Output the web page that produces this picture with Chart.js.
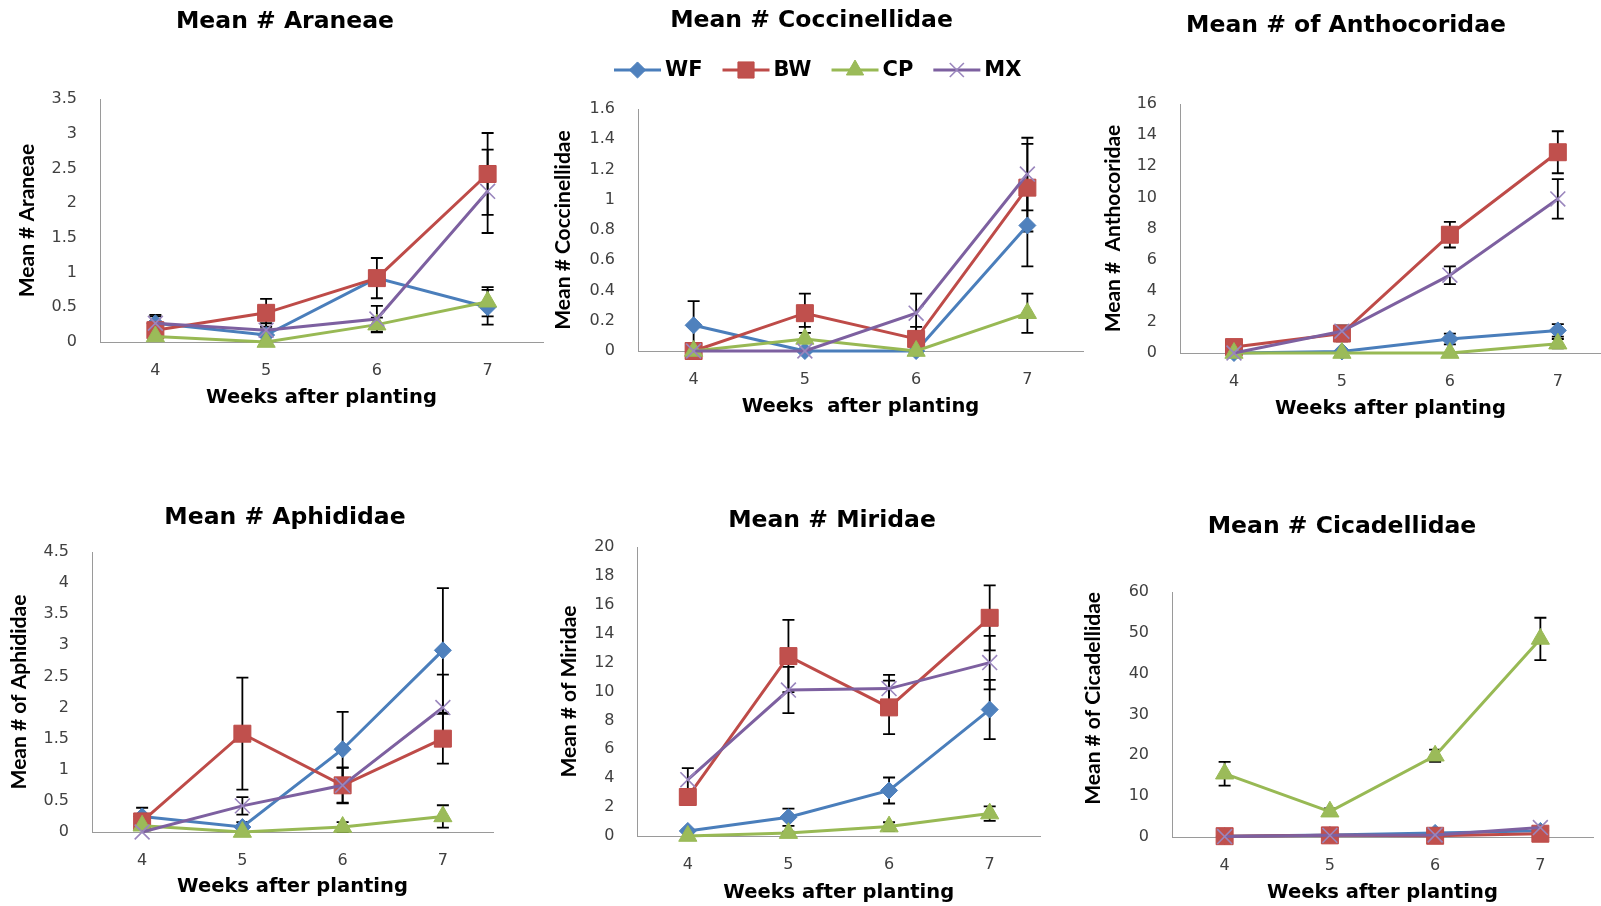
<!DOCTYPE html>
<html>
<head>
<meta charset="utf-8">
<script src="https://cdn.jsdelivr.net/npm/chart.js@4.4.0/dist/chart.umd.min.js"></script>
<style>
  html, body { margin: 0; padding: 0; background: #ffffff; }
  #wrap { position: relative; width: 1601px; height: 906px; overflow: hidden; background: #ffffff; }
  #wrap canvas { position: absolute; left: 0; top: 0; }
</style>
</head>
<body>
<div id="wrap"></div>
<script>
// ---- data ----
const weeks = [4, 5, 6, 7];
const seriesNames = ['WF', 'BW', 'CP', 'MX'];

// Araneae
const araneaeWF = [0.27, 0.10, 0.92, 0.50];
const araneaeBW = [0.17, 0.42, 0.92, 2.42];
const araneaeCP = [0.08, 0.00, 0.25, 0.58];
const araneaeMX = [0.27, 0.17, 0.33, 2.17];
const araneaeWFse = [0.12, 0.08, 0.00, 0.25];
const araneaeBWse = [0.05, 0.20, 0.29, 0.59];
const araneaeCPse = [0.05, 0.00, 0.10, 0.21];
const araneaeMXse = [0.10, 0.10, 0.19, 0.60];
const araneaeTicks = [0, 0.5, 1, 1.5, 2, 2.5, 3, 3.5];

// Coccinellidae
const coccinellidaeWF = [0.17, 0.00, 0.00, 0.83];
const coccinellidaeBW = [0.00, 0.25, 0.08, 1.08];
const coccinellidaeCP = [0.00, 0.08, 0.00, 0.25];
const coccinellidaeMX = [0.00, 0.00, 0.25, 1.17];
const coccinellidaeWFse = [0.16, 0.00, 0.00, 0.27];
const coccinellidaeBWse = [0.00, 0.13, 0.08, 0.29];
const coccinellidaeCPse = [0.00, 0.08, 0.00, 0.13];
const coccinellidaeMXse = [0.00, 0.00, 0.13, 0.24];
const coccinellidaeTicks = [0, 0.2, 0.4, 0.6, 0.8, 1, 1.2, 1.4, 1.6];

// Anthocoridae
const anthocoridaeWF = [0.00, 0.10, 0.90, 1.45];
const anthocoridaeBW = [0.38, 1.25, 7.60, 12.90];
const anthocoridaeCP = [0.00, 0.00, 0.00, 0.60];
const anthocoridaeMX = [0.00, 1.40, 5.00, 9.90];
const anthocoridaeWFse = [0.00, 0.05, 0.35, 0.40];
const anthocoridaeBWse = [0.10, 0.50, 0.82, 1.35];
const anthocoridaeCPse = [0.00, 0.00, 0.00, 0.30];
const anthocoridaeMXse = [0.00, 0.35, 0.57, 1.27];
const anthocoridaeTicks = [0, 2, 4, 6, 8, 10, 12, 14, 16];

// Aphididae
const aphididaeWF = [0.25, 0.08, 1.33, 2.92];
const aphididaeBW = [0.17, 1.58, 0.75, 1.50];
const aphididaeCP = [0.10, 0.00, 0.08, 0.25];
const aphididaeMX = [0.00, 0.42, 0.75, 2.00];
const aphididaeWFse = [0.14, 0.08, 0.60, 1.00];
const aphididaeBWse = [0.05, 0.90, 0.29, 0.40];
const aphididaeCPse = [0.03, 0.00, 0.08, 0.18];
const aphididaeMXse = [0.00, 0.14, 0.28, 0.53];
const aphididaeTicks = [0, 0.5, 1, 1.5, 2, 2.5, 3, 3.5, 4, 4.5];

// Miridae
const miridaeWF = [0.35, 1.30, 3.15, 8.75];
const miridaeBW = [2.70, 12.45, 8.90, 15.10];
const miridaeCP = [0.00, 0.20, 0.65, 1.55];
const miridaeMX = [3.90, 10.10, 10.20, 12.00];
const miridaeWFse = [0.10, 0.60, 0.90, 2.05];
const miridaeBWse = [0.50, 2.50, 1.85, 2.25];
const miridaeCPse = [0.00, 0.10, 0.30, 0.50];
const miridaeMXse = [0.80, 1.60, 0.95, 1.85];
const miridaeTicks = [0, 2, 4, 6, 8, 10, 12, 14, 16, 18, 20];

// Cicadellidae
const cicadellidaeWF = [0.20, 0.50, 1.00, 1.50];
const cicadellidaeBW = [0.20, 0.40, 0.30, 0.80];
const cicadellidaeCP = [15.50, 6.20, 19.90, 48.50];
const cicadellidaeMX = [0.10, 0.40, 0.50, 2.30];
const cicadellidaeWFse = [0, 0, 0, 0];
const cicadellidaeBWse = [0, 0, 0, 0];
const cicadellidaeCPse = [2.90, 0.80, 1.50, 5.20];
const cicadellidaeMXse = [0, 0, 0, 0];
const cicadellidaeTicks = [0, 10, 20, 30, 40, 50, 60];

// ---- styling ----
const lineColors   = ['#4a7ebb', '#be4b48', '#98b954', '#7d60a0'];
const markerFills  = ['#4f81bd', '#c0504d', '#9bbb59', '#8064a2'];
const markerLines  = ['#4a7ebb', '#be4b48', '#98b954', '#9a86bd'];
const markerShapes = ['rectRot', 'rect', 'triangle', 'crossRot'];
const markerRadii  = [8.5, 12, 10.5, 10.5];
const markerWidths = [1, 1, 1, 1.6];

const W = 1601, H = 906;
const tickFont = { family: '"DejaVu Sans", Verdana, sans-serif', size: 16 };
const xTitleFont = { family: '"DejaVu Sans", Verdana, sans-serif', size: 19.5, weight: 'bold' };
const yTitleFont = { family: 'Lato, "Open Sans", sans-serif', size: 21, weight: 'bold' };
const panelTitleFont = 'bold 23.5px "DejaVu Sans", Verdana, sans-serif';
const legendFont = 'bold 21px "DejaVu Sans", Verdana, sans-serif';

// panel layout (pixel boxes of each plot area)
const panels = [
  { title: 'Mean # Araneae', yTitle: 'Mean # Araneae', xTitle: 'Weeks after planting',
    means: [araneaeWF, araneaeBW, araneaeCP, araneaeMX],
    errs: [araneaeWFse, araneaeBWse, araneaeCPse, araneaeMXse], ticks: araneaeTicks,
    box: { left: 100, right: 543, top: 99, bottom: 342 }, xMax: 7.5,
    titleAt: [285, 22], yTitleX: 27.5, xTitleY: 398 },
  { title: 'Mean # Coccinellidae', yTitle: 'Mean # Coccinellidae', xTitle: 'Weeks  after planting',
    means: [coccinellidaeWF, coccinellidaeBW, coccinellidaeCP, coccinellidaeMX],
    errs: [coccinellidaeWFse, coccinellidaeBWse, coccinellidaeCPse, coccinellidaeMXse], ticks: coccinellidaeTicks,
    box: { left: 638, right: 1083, top: 109, bottom: 351 }, xMax: 7.5,
    titleAt: [811.5, 21], yTitleX: 563.5, xTitleY: 407, legendAt: [614, 70] },
  { title: 'Mean # of Anthocoridae', yTitle: 'Mean #  Anthocoridae', xTitle: 'Weeks after planting',
    means: [anthocoridaeWF, anthocoridaeBW, anthocoridaeCP, anthocoridaeMX],
    errs: [anthocoridaeWFse, anthocoridaeBWse, anthocoridaeCPse, anthocoridaeMXse], ticks: anthocoridaeTicks,
    box: { left: 1180, right: 1601, top: 104, bottom: 353 }, xMax: 7.4,
    titleAt: [1346, 26], yTitleX: 1113.5, xTitleY: 409 },
  { title: 'Mean # Aphididae', yTitle: 'Mean # of Aphididae', xTitle: 'Weeks after planting',
    means: [aphididaeWF, aphididaeBW, aphididaeCP, aphididaeMX],
    errs: [aphididaeWFse, aphididaeBWse, aphididaeCPse, aphididaeMXse], ticks: aphididaeTicks,
    box: { left: 92, right: 493, top: 552, bottom: 832 }, xMax: 7.5,
    titleAt: [285, 518], yTitleX: 19, xTitleY: 887 },
  { title: 'Mean # Miridae', yTitle: 'Mean # of Miridae', xTitle: 'Weeks after planting',
    means: [miridaeWF, miridaeBW, miridaeCP, miridaeMX],
    errs: [miridaeWFse, miridaeBWse, miridaeCPse, miridaeMXse], ticks: miridaeTicks,
    box: { left: 637.5, right: 1040, top: 547, bottom: 836 }, xMax: 7.5,
    titleAt: [832, 521], yTitleX: 569.5, xTitleY: 893 },
  { title: 'Mean # Cicadellidae', yTitle: 'Mean # of Cicadellidae', xTitle: 'Weeks after planting',
    means: [cicadellidaeWF, cicadellidaeBW, cicadellidaeCP, cicadellidaeMX],
    errs: [cicadellidaeWFse, cicadellidaeBWse, cicadellidaeCPse, cicadellidaeMXse], ticks: cicadellidaeTicks,
    box: { left: 1172, right: 1593, top: 592, bottom: 837 }, xMax: 7.5,
    titleAt: [1342, 527], yTitleX: 1093, xTitleY: 893, yTitleAlign: 'end' }
];

// vertical error bars (mean ± se), drawn under the series markers
const errorBars = {
  id: 'errorBars',
  beforeDatasetsDraw(chart) {
    const { ctx, scales: { x, y } } = chart;
    ctx.save();
    ctx.strokeStyle = '#000000';
    ctx.lineWidth = 1.8;
    chart.data.datasets.forEach(ds => {
      ds.data.forEach((pt, j) => {
        const e = ds.errors[j];
        if (!e) return;
        const px = x.getPixelForValue(pt.x);
        const yHi = y.getPixelForValue(pt.y + e);
        const yLo = y.getPixelForValue(Math.max(pt.y - e, 0));
        ctx.beginPath();
        ctx.moveTo(px, yHi); ctx.lineTo(px, yLo);
        ctx.moveTo(px - 6, yHi); ctx.lineTo(px + 6, yHi);
        ctx.moveTo(px - 6, yLo); ctx.lineTo(px + 6, yLo);
        ctx.stroke();
      });
    });
    ctx.restore();
  }
};

// panel heading
const panelTitle = {
  id: 'panelTitle',
  afterDraw(chart, args, opts) {
    const ctx = chart.ctx;
    ctx.save();
    ctx.font = panelTitleFont;
    ctx.fillStyle = '#000000';
    ctx.textAlign = 'center';
    ctx.textBaseline = 'middle';
    ctx.fillText(opts.text, opts.x, opts.y);
    ctx.restore();
  }
};

// legend with line + marker samples
function drawMarker(ctx, style, r, x, y) {
  if (Chart.helpers && Chart.helpers.drawPoint) {
    Chart.helpers.drawPoint(ctx, { pointStyle: style, radius: r, rotation: 0, borderWidth: ctx.lineWidth }, x, y);
  }
}
const lineLegend = {
  id: 'lineLegend',
  afterDraw(chart, args, opts) {
    if (!opts.at) return;
    const ctx = chart.ctx;
    let [x, y] = opts.at;
    ctx.save();
    ctx.font = legendFont;
    ctx.textBaseline = 'middle';
    chart.data.datasets.forEach((ds) => {
      ctx.strokeStyle = ds.borderColor;
      ctx.lineWidth = 3;
      ctx.beginPath();
      ctx.moveTo(x, y); ctx.lineTo(x + 47, y);
      ctx.stroke();
      ctx.fillStyle = ds.pointBackgroundColor;
      ctx.strokeStyle = ds.pointBorderColor;
      ctx.lineWidth = ds.pointBorderWidth;
      drawMarker(ctx, ds.pointStyle, ds.pointRadius * 0.95, x + 23.5, y);
      ctx.fillStyle = '#000000';
      ctx.textAlign = 'left';
      ctx.fillText(ds.label, x + 51, y + 1);
      x += 51 + ctx.measureText(ds.label).width + 20;
    });
    ctx.restore();
  }
};

const fmtTick = v => String(Number(v.toFixed(2)));
const wrap = document.getElementById('wrap');

panels.forEach(p => {
  const canvas = document.createElement('canvas');
  canvas.width = W; canvas.height = H;
  canvas.style.width = W + 'px'; canvas.style.height = H + 'px';
  wrap.appendChild(canvas);

  const yLH = yTitleFont.size * 1.2;
  const xLH = xTitleFont.size * 1.2;
  const yBoxLeft = p.yTitleX - yLH / 2;
  const xBoxBottom = p.xTitleY + xLH / 2;

  const datasets = seriesNames.map((name, i) => ({
    label: name,
    data: weeks.map((w, j) => ({ x: w, y: p.means[i][j] })),
    errors: p.errs[i],
    borderColor: lineColors[i],
    backgroundColor: markerFills[i],
    borderWidth: 3,
    tension: 0,
    fill: false,
    pointStyle: markerShapes[i],
    pointRadius: markerRadii[i],
    pointBackgroundColor: markerFills[i],
    pointBorderColor: markerLines[i],
    pointBorderWidth: markerWidths[i],
    order: seriesNames.length - i,
    clip: false
  }));

  new Chart(canvas, {
    type: 'line',
    data: { datasets },
    options: {
      responsive: false,
      animation: false,
      events: [],
      layout: {
        autoPadding: false,
        padding: {
          left: yBoxLeft,
          right: W - p.box.right,
          top: p.box.top,
          bottom: H - xBoxBottom
        }
      },
      plugins: {
        legend: { display: false },
        tooltip: { enabled: false },
        title: { display: false },
        panelTitle: { text: p.title, x: p.titleAt[0], y: p.titleAt[1] },
        lineLegend: { at: p.legendAt || null }
      },
      scales: {
        x: {
          type: 'linear',
          min: 3.5,
          max: p.xMax,
          afterBuildTicks: s => { s.ticks = weeks.map(v => ({ value: v })); },
          afterFit: s => { s.height = xBoxBottom - p.box.bottom; },
          grid: { display: false, drawTicks: false },
          border: { display: true, color: '#9a9a9a', width: 1 },
          ticks: { font: tickFont, color: '#404040', padding: 19.5, maxRotation: 0, autoSkip: false, callback: fmtTick },
          title: { display: true, text: p.xTitle, font: xTitleFont, color: '#000000', padding: 0 }
        },
        y: {
          type: 'linear',
          min: p.ticks[0],
          max: p.ticks[p.ticks.length - 1],
          afterBuildTicks: s => { s.ticks = p.ticks.map(v => ({ value: v })); },
          afterFit: s => { s.width = p.box.left - yBoxLeft; },
          grid: { display: false, drawTicks: false },
          border: { display: true, color: '#9a9a9a', width: 1 },
          ticks: { font: tickFont, color: '#404040', padding: 23, autoSkip: false, callback: fmtTick },
          title: { display: true, text: p.yTitle, font: yTitleFont, color: '#000000', padding: 0,
                   align: p.yTitleAlign || 'center' }
        }
      }
    },
    plugins: [errorBars, panelTitle, lineLegend]
  });
});
</script>
</body>
</html>
